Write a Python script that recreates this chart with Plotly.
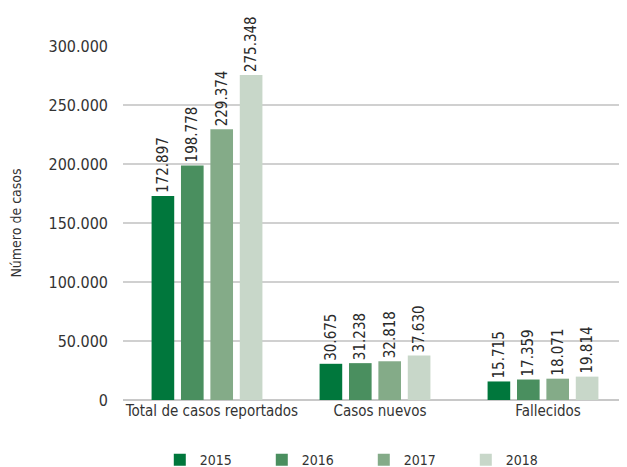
import plotly.graph_objects as go

categorias = ["Total de casos reportados", "Casos nuevos", "Fallecidos"]
anios = ["2015", "2016", "2017", "2018"]
casos_2015 = [172897, 30675, 15715]
casos_2016 = [198778, 31238, 17359]
casos_2017 = [229374, 32818, 18071]
casos_2018 = [275348, 37630, 19814]
colores = ["#00773c", "#4a8f5f", "#84ab88", "#c8d7c9"]

series = [casos_2015, casos_2016, casos_2017, casos_2018]
fuente = "DejaVu Sans Condensed, Liberation Sans Narrow, sans-serif"

fig = go.Figure()
for anio, valores, color in zip(anios, series, colores):
    fig.add_trace(go.Bar(
        x=categorias, y=valores, name=anio,
        marker=dict(color=color, line=dict(width=0)),
        texttemplate="%{y:,d}", textposition="outside",
        textangle=-90, cliponaxis=False, constraintext="none",
        textfont=dict(size=15, color="#2a2a2a"),
    ))

# la página deja 8px de margen en el body, se compensa aquí
fig.update_layout(
    width=619, height=459,
    margin=dict(l=115, r=0, t=38, b=67, autoexpand=False),
    paper_bgcolor="white", plot_bgcolor="white",
    separators=",.",
    font=dict(family=fuente, size=14, color="#333333"),
    barmode="group", bargap=0.30, bargroupgap=0.23,
    showlegend=True,
    legend=dict(orientation="h", x=0.073, xanchor="left", y=-0.125, yanchor="top",
                font=dict(size=14), entrywidth=57, entrywidthmode="pixels",
                traceorder="normal"),
)
fig.update_yaxes(
    range=[0, 300000], dtick=50000, tickformat=",d",
    showgrid=True, gridcolor="#d0d0d0", gridwidth=2,
    zeroline=True, zerolinecolor="#c8c8c8", zerolinewidth=2,
    ticks="", ticklabelstandoff=14, tickfont=dict(size=16),
    title=dict(text="Número de casos", standoff=26, font=dict(size=14)),
)
fig.update_xaxes(showline=False, ticks="", tickfont=dict(size=15), ticklabelshift=5)

fig.write_html("out.html")
